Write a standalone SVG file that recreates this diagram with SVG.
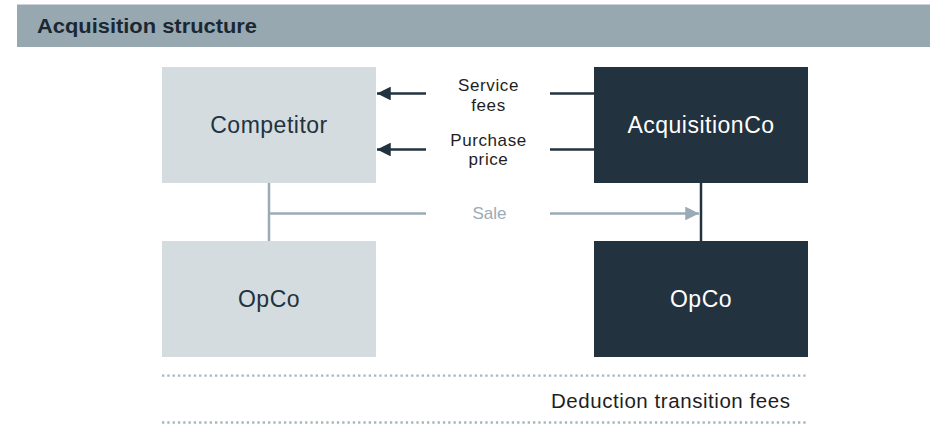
<svg xmlns="http://www.w3.org/2000/svg" width="930" height="424" viewBox="0 0 930 424">
<defs>
<style>
.t{font-family:"Liberation Sans",Arial,sans-serif}
.light{fill:#d4dcdf}
.dark{fill:#22323f}
.lbl{font-size:23px;letter-spacing:0.5px;text-anchor:middle}
.sm{font-size:17px;fill:#1e1e1e;text-anchor:middle;letter-spacing:0.6px}
.dot{stroke:#a7b6bf;stroke-width:2.3;stroke-dasharray:2.3 3;fill:none}
</style>
<marker id="ad" viewBox="0 0 10 10" refX="10" refY="5" markerWidth="6" markerHeight="5.5" markerUnits="strokeWidth" orient="auto"><path d="M0,0 L10,5 L0,10 Z" fill="#22323f"/></marker>
<marker id="ag" viewBox="0 0 10 10" refX="10" refY="5" markerWidth="6.5" markerHeight="5.5" markerUnits="strokeWidth" orient="auto"><path d="M0,0 L10,5 L0,10 Z" fill="#9aabb5"/></marker>
</defs>
<rect width="930" height="424" fill="#ffffff"/>
<g id="header">
<rect x="17" y="4.5" width="913" height="42.5" fill="#97a8b1"/>
<text class="t" x="37" y="32.5" font-size="19.5" font-weight="bold" fill="#1a2833" textLength="220" lengthAdjust="spacingAndGlyphs">Acquisition structure</text>
</g>
<g id="competitor">
<rect class="light" x="162" y="67" width="214" height="116"/>
<text class="t lbl" x="269" y="133" fill="#22323f">Competitor</text>
</g>
<g id="acquisitionco">
<rect class="dark" x="594" y="67" width="214" height="116"/>
<text class="t lbl" x="701" y="133" fill="#ffffff">AcquisitionCo</text>
</g>
<g id="opco-left">
<rect class="light" x="162" y="241" width="214" height="116"/>
<text class="t lbl" x="269" y="307" fill="#22323f">OpCo</text>
</g>
<g id="opco-right">
<rect class="dark" x="594" y="241" width="214" height="116"/>
<text class="t lbl" x="701" y="307" fill="#ffffff">OpCo</text>
</g>
<g id="connectors">
<line x1="426" y1="93.5" x2="377" y2="93.5" stroke="#22323f" stroke-width="2.5" marker-end="url(#ad)"/>
<line x1="550" y1="93.5" x2="594" y2="93.5" stroke="#22323f" stroke-width="2.5"/>
<line x1="426" y1="149.5" x2="377" y2="149.5" stroke="#22323f" stroke-width="2.5" marker-end="url(#ad)"/>
<line x1="550" y1="149.5" x2="594" y2="149.5" stroke="#22323f" stroke-width="2.5"/>
<line x1="269" y1="183" x2="269" y2="241" stroke="#9aabb5" stroke-width="2.5"/>
<line x1="269" y1="213.5" x2="426" y2="213.5" stroke="#9aabb5" stroke-width="2.5"/>
<line x1="550" y1="213.5" x2="699" y2="213.5" stroke="#9aabb5" stroke-width="2.5" marker-end="url(#ag)"/>
<line x1="701" y1="183" x2="701" y2="241" stroke="#22323f" stroke-width="2.5"/>
</g>
<g id="labels">
<text class="t sm" x="488.5" y="91">Service</text>
<text class="t sm" x="488.5" y="110.5">fees</text>
<text class="t sm" x="488.5" y="146">Purchase</text>
<text class="t sm" x="488.5" y="165">price</text>
<text class="t" x="489.5" y="219" font-size="17" fill="#9aabb5" text-anchor="middle">Sale</text>
</g>
<g id="footer">
<line class="dot" x1="162" y1="375.7" x2="808" y2="375.7"/>
<line class="dot" x1="162" y1="422.5" x2="808" y2="422.5"/>
<text class="t" x="551" y="408" font-size="20.5" fill="#1e1e1e" textLength="239" lengthAdjust="spacing">Deduction transition fees</text>
</g>
</svg>
